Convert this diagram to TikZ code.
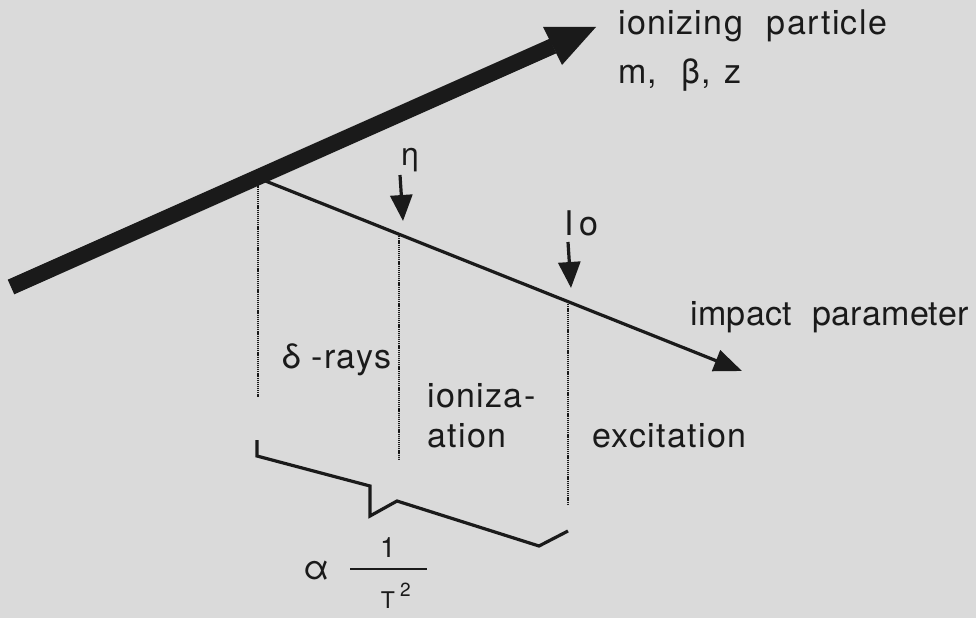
\documentclass[tikz,border=0pt]{standalone}
\usepackage{fontspec}
\setmainfont{TeX Gyre Heros}[LetterSpace=4]
\usetikzlibrary{arrows.meta}
\definecolor{bg}{RGB}{218,218,218}
\definecolor{ink}{RGB}{26,26,26}
\tikzset{
  lbl/.style={inner sep=0pt, text=ink, font=\fontsize{34}{40}\selectfont, anchor=base west},
  beam/.style={line width=16pt, draw=ink},
  beamhead/.style={fill=ink},
  ray/.style={line width=3.2pt, draw=ink, -{Triangle[length=28pt,width=22pt]}},
  pointer/.style={line width=3.2pt, draw=ink, -{Triangle[length=26pt,width=22pt]}},
  dotline/.style={line width=2.2pt, draw=ink, dash pattern=on 1.2pt off 0.9pt},
  profile/.style={line width=3.2pt, draw=ink, line join=miter},
}
\begin{document}
\begin{tikzpicture}[x=1pt,y=-1pt]
\clip (0,0) rectangle (976,618);
\fill[bg] (0,0) rectangle (976,618);

% coordinates
\coordinate (bstart) at (11,287);
\coordinate (bbase) at (553,46);
\coordinate (btip) at (596,27);
\coordinate (bc1) at (543,27);
\coordinate (bc2) at (562,65);
\coordinate (branch) at (258,178);
\coordinate (rtip) at (742,371);
\coordinate (d1top) at (258,178);
\coordinate (d1bot) at (258,397);
\coordinate (d2top) at (399,234);
\coordinate (d2bot) at (399,460);
\coordinate (d3top) at (568,302);
\coordinate (d3bot) at (568,505);
\coordinate (etas) at (400,175);
\coordinate (etat) at (403,221);
\coordinate (ios) at (568,242);
\coordinate (iot) at (571,288);

% dotted verticals
\draw[dotline] (d1top) -- (d1bot);
\draw[dotline] (d2top) -- (d2bot);
\draw[dotline] (d3top) -- (d3bot);

% impact parameter ray
\draw[ray] (branch) -- (rtip);
% ionizing particle
\draw[beam] (bstart) -- (bbase);
\fill[beamhead] (btip) -- (bc1) -- (bc2) -- cycle;

% pointers
\draw[pointer] (etas) -- (etat);
\draw[pointer] (ios) -- (iot);

% profile
\draw[profile] (257,440) -- (257,456) -- (370,486) -- (370,516) -- (397,501) -- (539,546) -- (568,531);

% labels
\node[lbl] (ip) at (618,35) {ionizing\hspace{24pt}particle};
\node[lbl] (mbz) at (618,83) {m,\hspace{24pt}β,\hspace{14pt}z};
\node[lbl] (imp) at (690,325) {\addfontfeature{LetterSpace=1}impact\hspace{20pt}parameter};
\node[lbl] (exc) at (592,447) {excitation};
\node[lbl] (ion1) at (427,407) {ioniza-};
\node[lbl] (ion2) at (427,447) {ation};
\node[lbl] (drays) at (282,368) {δ -rays};
\node[lbl, font=\fontsize{32}{34}\selectfont, anchor=center] (eta) at (410,160) {η};
\node[lbl] (io) at (564,235) {I\hspace{6pt}o};

% proportional to 1/T^2
\node[lbl, font=\fontsize{34}{36}\selectfont, anchor=center] (alpha) at (317,571) {α};
\coordinate (barl) at (350,569);
\coordinate (barr) at (427,569);
\draw[line width=2.8pt, draw=ink] (barl) -- (barr);
\node[lbl, font=\fontsize{28}{30}\selectfont, anchor=center] (one) at (388,548) {1};
\node[lbl, font=\fontsize{23}{24}\selectfont, anchor=north] (tee) at (388,592) {T};
\node[lbl, font=\fontsize{19}{20}\selectfont] (two) at (400,596) {2};
\end{tikzpicture}
\end{document}
